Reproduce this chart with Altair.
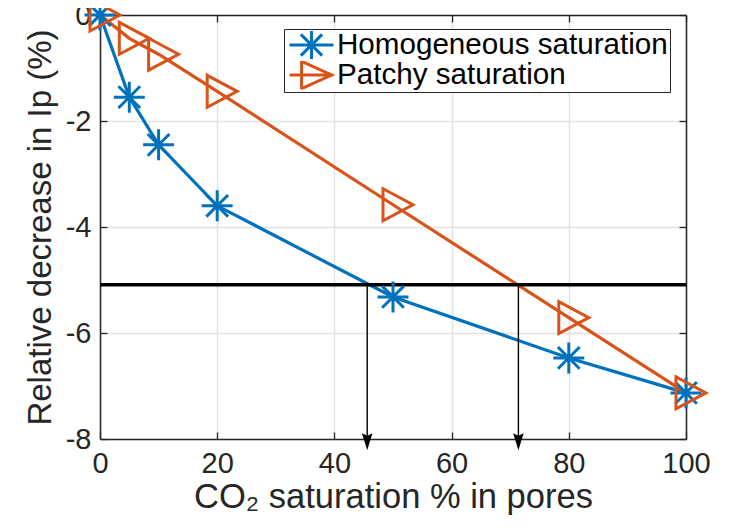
import altair as alt
import pandas as pd

# ---- data ----
saturation = [0, 5, 10, 20, 50, 80, 100]
homogeneous = [0.0, -1.55, -2.45, -3.60, -5.32, -6.47, -7.13]
patchy = [0.0, -0.44, -0.74, -1.44, -3.58, -5.71, -7.13]
series_names = ["Homogeneous saturation", "Patchy saturation"]
series_colors = ["#0072BD", "#D95319"]
threshold_level = [-5.09]
arrow_x = [45.6, 71.4]
arrow_from = -5.09
arrow_to = -8.05
x_ticks = [0, 20, 40, 60, 80, 100]
y_ticks = [-8, -6, -4, -2, 0]

W, H = 586, 424
FONT = "Liberation Sans, Arial, Helvetica, sans-serif"
AX = "#262626"

rows = []
for s, v in zip(saturation, homogeneous):
    rows.append({"sat": s, "val": v, "series": series_names[0]})
for s, v in zip(saturation, patchy):
    rows.append({"sat": s, "val": v, "series": series_names[1]})
df = pd.DataFrame(rows)

thr_df = pd.DataFrame({"y": threshold_level})
arr_df = pd.DataFrame({"x": arrow_x, "y": [arrow_from] * len(arrow_x), "y2": [arrow_to] * len(arrow_x)})

ASTER = "M-1,0L1,0M0,-1L0,1M-0.7,-0.7L0.7,0.7M-0.7,0.7L0.7,-0.7"
TRI = "M-0.645,-1.03L1.29,0L-0.645,1.03Z"
# legend versions (line through marker)
L_ASTER = "M-1.57,0L1.57,0M0,-1.0L0,1.0M-0.76,-0.76L0.76,0.76M-0.76,0.76L0.76,-0.76"
L_TRI = "M-1.57,0L1.57,0M-0.71,-0.98L1.43,0L-0.71,0.98Z"
ARROW = "M0,1L-0.62,-1L0,-0.7L0.62,-1Z"

xscale = alt.Scale(domain=[0, 100], nice=False, zero=False)
yscale = alt.Scale(domain=[-8, 0], nice=False, zero=False)
cscale = alt.Scale(domain=series_names, range=series_colors)

# axis A: labels + grid
axA_x = alt.Axis(values=x_ticks, title="CO₂ saturation % in pores", grid=True, gridColor="#e2e2e2",
                 gridWidth=1.5, ticks=False, domain=False, labelFont=FONT, labelFontSize=29,
                 labelColor=AX, labelPadding=10, titleFont=FONT, titleFontSize=34.5,
                 titleFontWeight="normal", titleColor=AX, titlePadding=2, labelFlush=False,
                 labelExpr="'' + datum.value")
axA_y = alt.Axis(values=y_ticks, title="Relative decrease in Ip (%)", grid=True, gridColor="#e2e2e2",
                 gridWidth=1.5, ticks=False, domain=False, labelFont=FONT, labelFontSize=29,
                 labelColor=AX, labelPadding=9, titleFont=FONT, titleFontSize=33,
                 titleFontWeight="normal", titleColor=AX, titlePadding=8, labelFlush=False,
                 labelExpr="'' + datum.value")
# axis B: bottom/left frame with inward ticks
axB_x = alt.Axis(orient="top", offset=-H, values=x_ticks, labels=False, title=None, grid=False,
                 ticks=True, tickSize=7, tickColor=AX, tickWidth=1.3, domain=True,
                 domainColor=AX, domainWidth=1.5)
axB_y = alt.Axis(orient="right", offset=-W, values=y_ticks, labels=False, title=None, grid=False,
                 ticks=True, tickSize=7, tickColor=AX, tickWidth=1.3, domain=True,
                 domainColor=AX, domainWidth=1.5)
# axis D: top/right frame with inward ticks
axD_x = alt.Axis(orient="bottom", offset=-H, values=x_ticks, labels=False, title=None, grid=False,
                 ticks=True, tickSize=7, tickColor=AX, tickWidth=1.3, domain=True,
                 domainColor=AX, domainWidth=1.5)
axD_y = alt.Axis(orient="left", offset=-W, values=y_ticks, labels=False, title=None, grid=False,
                 ticks=True, tickSize=7, tickColor=AX, tickWidth=1.3, domain=True,
                 domainColor=AX, domainWidth=1.5)

legend_shape_expr = (
    "datum.value == '" + series_names[0] + "' ? '" + L_ASTER + "' : '" + L_TRI + "'"
)
legend = alt.Legend(
    title=None, orient="none", legendX=184, legendY=14,
    direction="vertical", padding=2, rowPadding=0, clipHeight=28,
    symbolSize=784, symbolStrokeWidth=3, symbolOffset=10, labelOffset=10,
    symbolType={"expr": legend_shape_expr},
    symbolFillColor="transparent", symbolOpacity=1,
    labelFont=FONT, labelFontSize=29.6, labelColor="#000000", labelLimit=600,
    strokeColor=AX, fillColor="#ffffff", cornerRadius=0,
)

lines = alt.Chart(df).mark_line(strokeWidth=3.2).encode(
    x=alt.X("sat:Q", scale=xscale, axis=axA_x),
    y=alt.Y("val:Q", scale=yscale, axis=axA_y),
    color=alt.Color("series:N", scale=cscale, legend=legend),
    detail="series:N",
)

pts_h = alt.Chart(df).transform_filter(
    alt.datum.series == series_names[0]
).mark_point(shape=ASTER, filled=False, strokeWidth=3, size=961, opacity=1, color=series_colors[0]).encode(
    x=alt.X("sat:Q", scale=xscale, axis=axB_x),
    y=alt.Y("val:Q", scale=yscale, axis=axB_y),
)
pts_p = alt.Chart(df).transform_filter(
    alt.datum.series == series_names[1]
).mark_point(shape=TRI, filled=False, strokeWidth=3, size=961, opacity=1, color=series_colors[1]).encode(
    x=alt.X("sat:Q", scale=xscale, axis=None),
    y=alt.Y("val:Q", scale=yscale, axis=None),
)

hline = alt.Chart(thr_df).mark_rule(color="#000000", strokeWidth=3.5).encode(
    y=alt.Y("y:Q", scale=yscale, axis=None),
)

arrows = alt.Chart(arr_df).mark_rule(color="#000000", strokeWidth=1.4).encode(
    x=alt.X("x:Q", scale=xscale, axis=axD_x),
    y=alt.Y("y:Q", scale=yscale, axis=axD_y),
    y2="y2:Q",
)

heads = alt.Chart(arr_df).mark_point(shape=ARROW, filled=True, size=289, color="#000000", opacity=1).encode(
    x=alt.X("x:Q", scale=xscale, axis=None),
    y=alt.Y("y2:Q", scale=yscale, axis=None),
)

chart = alt.layer(lines, hline, arrows, heads, pts_h, pts_p).resolve_axis(
    x="independent", y="independent"
).properties(
    width=W, height=H,
    autosize=alt.AutoSizeParams(type="none"),
    padding={"left": 92, "top": 7, "right": 36, "bottom": 80},
).configure_view(stroke=None)

chart.save("out.html", embed_options={"renderer": "svg", "actions": False})
